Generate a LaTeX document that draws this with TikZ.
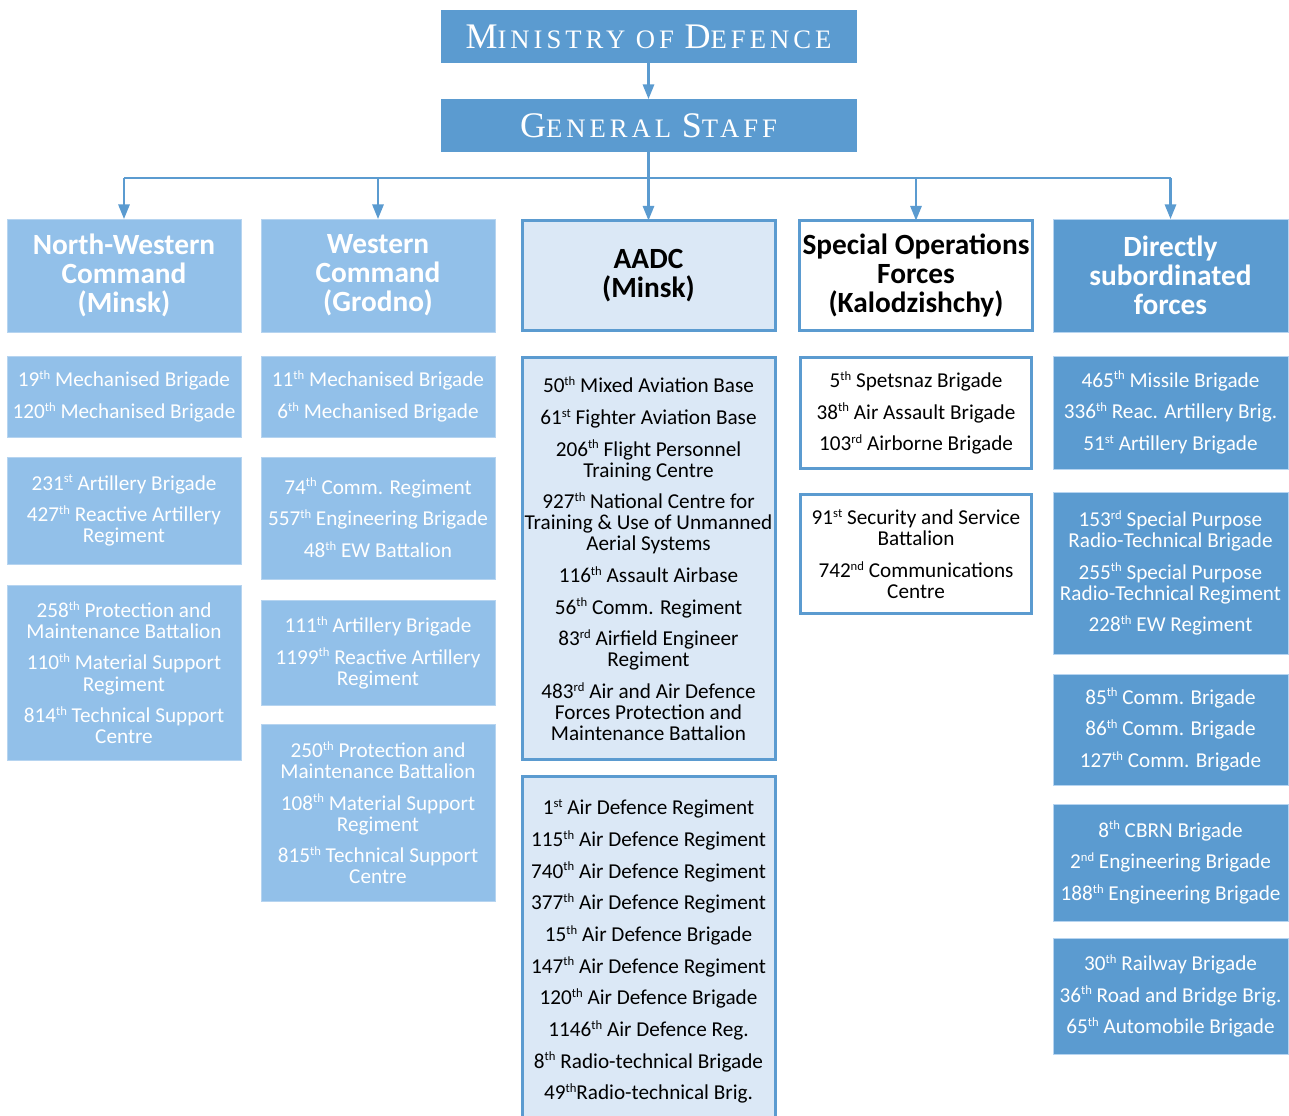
\documentclass[tikz,border=0pt]{standalone}
\usepackage{fontspec}
\setmainfont{Carlito}
\newfontfamily\titlefont[LetterSpace=15]{Liberation Serif}
\usetikzlibrary{arrows.meta}

\definecolor{mainblue}{RGB}{91,155,208}
\definecolor{lightblue}{RGB}{146,192,233}
\definecolor{paleblue}{RGB}{219,232,246}
\definecolor{edgeblue}{RGB}{182,212,240}

\newcommand{\ord}[1]{\raisebox{5.5pt}{\fontsize{9.5}{9.5}\selectfont #1}}
\newcommand{\nx}{\\[8pt]}
\newcommand{\tcaps}[2]{{\fontsize{27}{27}\selectfont #1}{\fontsize{20}{20}\selectfont #2}}
\newcommand{\unitfont}{\fontsize{15.9}{15.75}\selectfont\lineskiplimit-8pt\relax}

\begin{document}
\begin{tikzpicture}[x=0.75pt, y=-0.75pt, >={Triangle[length=11pt,width=8.5pt]}]
	\tikzstyle{every node}=[inner sep=2pt, outer sep=0pt, align=center, anchor=north]
	\tikzstyle{title}=[fill=mainblue, text=white, minimum width=312pt, minimum height=39.75pt, font=\titlefont\fontsize{20}{20}\selectfont]
	\tikzstyle{head}=[font=\fontsize{22}{21.75}\selectfont\bfseries]
	\tikzstyle{unit}=[font=\unitfont]
	\tikzstyle{boxh}=[minimum height=#1*0.75pt]
	\tikzstyle{boxw}=[minimum width=#1*0.75pt]
	\tikzstyle{litebox}=[fill=lightblue, draw=edgeblue, line width=0.75pt, text=white, boxw=234]
	\tikzstyle{palebox}=[fill=paleblue, draw=mainblue, line width=2.25pt, text=black, boxw=253]
	\tikzstyle{whitebox}=[fill=white, draw=mainblue, line width=2.25pt, text=black, boxw=231]
	\tikzstyle{darkbox}=[fill=mainblue, draw=edgeblue, line width=0.75pt, text=white, boxw=235]
	\tikzstyle{link}=[draw=mainblue, line width=1.6pt]

	\useasboundingbox (0,0) rectangle (1289,1115);

	\node[title] at (648.5,10) (mod) {\tcaps{M}{INISTRY OF} \tcaps{D}{EFENCE}};
	\node[title] at (648.5,99) (gs) {\tcaps{G}{ENERAL} \tcaps{S}{TAFF}};

	\node[head, litebox, boxh=113] at (124,219) (c1h) {North-Western\\Command\\(Minsk)};
	\node[head, litebox, boxh=113] at (378,219) (c2h) {Western\\Command\\(Grodno)};
	\node[head, palebox, boxh=110] at (648.5,220.5) (c3h) {AADC\\(Minsk)};
	\node[head, whitebox, boxh=110] at (916,220.5) (c4h) {Special Operations\\Forces\\(Kalodzishchy)};
	\node[head, darkbox, boxh=113] at (1170.5,219) (c5h) {Directly\\subordinated\\forces};

	\node[unit, litebox, boxh=81] at (124,356) (c1a) {19\ord{th} Mechanised Brigade\nx 120\ord{th} Mechanised Brigade};
	\node[unit, litebox, boxh=107] at (124,457) (c1b) {231\ord{st} Artillery Brigade\nx 427\ord{th} Reactive Artillery\\Regiment};
	\node[unit, litebox, boxh=175] at (124,585) (c1c) {258\ord{th} Protection and\\Maintenance Battalion\nx 110\ord{th} Material Support\\Regiment\nx 814\ord{th} Technical Support\\Centre};

	\node[unit, litebox, boxh=81] at (378,356) (c2a) {11\ord{th} Mechanised Brigade\nx 6\ord{th} Mechanised Brigade};
	\node[unit, litebox, boxh=122] at (378,457) (c2b) {74\ord{th} Comm. Regiment\nx 557\ord{th} Engineering Brigade\nx 48\ord{th} EW Battalion};
	\node[unit, litebox, boxh=105] at (378,600) (c2c) {111\ord{th} Artillery Brigade\nx 1199\ord{th} Reactive Artillery\\Regiment};
	\node[unit, litebox, boxh=177] at (378,724) (c2d) {250\ord{th} Protection and\\Maintenance Battalion\nx 108\ord{th} Material Support\\Regiment\nx 815\ord{th} Technical Support\\Centre};

	\node[unit, palebox, boxh=402] at (648.5,357.5) (c3a) {50\ord{th} Mixed Aviation Base\nx 61\ord{st} Fighter Aviation Base\nx 206\ord{th} Flight Personnel\\Training Centre\nx 927\ord{th} National Centre for\\Training \& Use of Unmanned\\Aerial Systems\nx 116\ord{th} Assault Airbase\nx 56\ord{th} Comm. Regiment\nx 83\ord{rd} Airfield Engineer\\Regiment\nx 483\ord{rd} Air and Air Defence\\Forces Protection and\\Maintenance Battalion};
	\node[unit, palebox, boxh=350] at (648.5,776.5) (c3b) {1\ord{st} Air Defence Regiment\nx 115\ord{th} Air Defence Regiment\nx 740\ord{th} Air Defence Regiment\nx 377\ord{th} Air Defence Regiment\nx 15\ord{th} Air Defence Brigade\nx 147\ord{th} Air Defence Regiment\nx 120\ord{th} Air Defence Brigade\nx 1146\ord{th} Air Defence Reg.\nx 8\ord{th} Radio-technical Brigade\nx 49\ord{th}Radio-technical Brig.};

	\node[unit, whitebox, boxh=111] at (916,357.5) (c4a) {5\ord{th} Spetsnaz Brigade\nx 38\ord{th} Air Assault Brigade\nx 103\ord{rd} Airborne Brigade};
	\node[unit, whitebox, boxh=119] at (916,494.5) (c4b) {91\ord{st} Security and Service\\Battalion\nx 742\ord{nd} Communications\\Centre};

	\node[unit, darkbox, boxh=113] at (1170.5,356) (c5a) {465\ord{th} Missile Brigade\nx 336\ord{th} Reac. Artillery Brig.\nx 51\ord{st} Artillery Brigade};
	\node[unit, darkbox, boxh=162] at (1170.5,492) (c5b) {153\ord{rd} Special Purpose\\Radio-Technical Brigade\nx 255\ord{th} Special Purpose\\Radio-Technical Regiment\nx 228\ord{th} EW Regiment};
	\node[unit, darkbox, boxh=111] at (1170.5,674) (c5c) {85\ord{th} Comm. Brigade\nx 86\ord{th} Comm. Brigade\nx 127\ord{th} Comm. Brigade};
	\node[unit, darkbox, boxh=117] at (1170.5,804) (c5d) {8\ord{th} CBRN Brigade\nx 2\ord{nd} Engineering Brigade\nx 188\ord{th} Engineering Brigade};
	\node[unit, darkbox, boxh=116] at (1170.5,938) (c5e) {30\ord{th} Railway Brigade\nx 36\ord{th} Road and Bridge Brig.\nx 65\ord{th} Automobile Brigade};

	\coordinate (bus) at (648.5,178);
	\draw[link, ->] (mod) -- (gs);
	\draw[link] (gs) -- (bus);
	\draw[link] (c1h.north |- bus) -- (c5h.north |- bus);
	\foreach \c in {c1h, c2h, c3h, c4h, c5h}
		\draw[link, ->] (\c.north |- bus) -- (\c.north);
\end{tikzpicture}
\end{document}
